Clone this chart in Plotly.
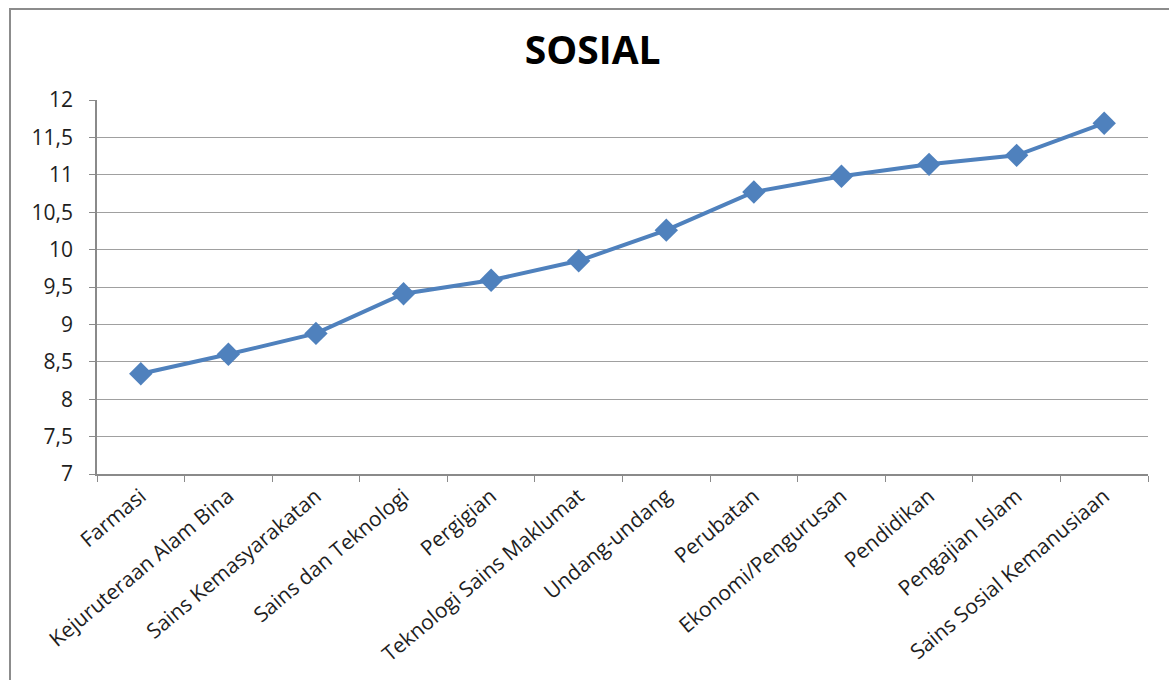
import plotly.graph_objects as go

# Faculty groups and their SOSIAL scores
categories = [
    "Farmasi",
    "Kejuruteraan Alam Bina",
    "Sains Kemasyarakatan",
    "Sains dan Teknologi",
    "Pergigian",
    "Teknologi Sains Maklumat",
    "Undang-undang",
    "Perubatan",
    "Ekonomi/Pengurusan",
    "Pendidikan",
    "Pengajian Islam",
    "Sains Sosial Kemanusiaan",
]
scores = [8.34, 8.60, 8.88, 9.41, 9.59, 9.85, 10.26, 10.77, 10.98, 11.14, 11.26, 11.69]

y_tickvals = [7, 7.5, 8, 8.5, 9, 9.5, 10, 10.5, 11, 11.5, 12]
y_ticktext = ["7", "7,5", "8", "8,5", "9", "9,5", "10", "10,5", "11", "11,5", "12"]

W, H = 1169, 680
ML, MR, MT, MB = 97, 21, 100, 206
pw, ph = W - ML - MR, H - MT - MB


def px_to_paper_x(px):
    return (px - ML) / pw


def px_to_paper_y(py):
    return (H - MB - py) / ph


AXIS_GREY = "#8a8a8a"
FONT = "Open Sans"
TEXT = "#1e1e1e"

fig = go.Figure(
    go.Scatter(
        x=categories,
        y=scores,
        mode="lines+markers",
        line=dict(color="#4F81BD", width=4),
        marker=dict(symbol="diamond", size=18, color="#4F81BD"),
        showlegend=False,
    )
)

fig.update_layout(
    width=W,
    height=H,
    margin=dict(l=ML, r=MR, t=MT, b=MB),
    paper_bgcolor="white",
    plot_bgcolor="white",
    font=dict(family=FONT, size=21, color=TEXT),
    title=dict(
        text="<b>SOSIAL</b>",
        x=0.507,
        xanchor="center",
        y=1 - 50 / H,
        yanchor="middle",
        font=dict(family=FONT, size=39, color="#000000"),
    ),
    shapes=[
        dict(
            type="rect",
            xref="paper",
            yref="paper",
            x0=px_to_paper_x(10),
            x1=px_to_paper_x(W + 20),
            y0=px_to_paper_y(H + 20),
            y1=px_to_paper_y(9),
            line=dict(color="#8c8c8c", width=2),
            fillcolor="rgba(0,0,0,0)",
            layer="below",
        )
    ],
)

fig.update_xaxes(
    type="category",
    tickangle=-40,
    showgrid=False,
    showline=True,
    linecolor=AXIS_GREY,
    linewidth=1.5,
    ticks="outside",
    tickson="boundaries",
    ticklen=6,
    tickcolor=AXIS_GREY,
    tickfont=dict(family=FONT, size=21, color=TEXT),
    range=[-0.5, len(categories) - 0.5],
)

fig.update_yaxes(
    range=[7, 12],
    tickvals=y_tickvals,
    ticktext=y_ticktext,
    showgrid=True,
    gridcolor="#a0a0a0",
    gridwidth=1.2,
    showline=True,
    linecolor=AXIS_GREY,
    linewidth=1.5,
    ticks="outside",
    ticklen=6,
    tickcolor=AXIS_GREY,
    ticklabelstandoff=12,
    tickfont=dict(family=FONT, size=21, color=TEXT),
    zeroline=False,
)

fig.write_html("out.html")
